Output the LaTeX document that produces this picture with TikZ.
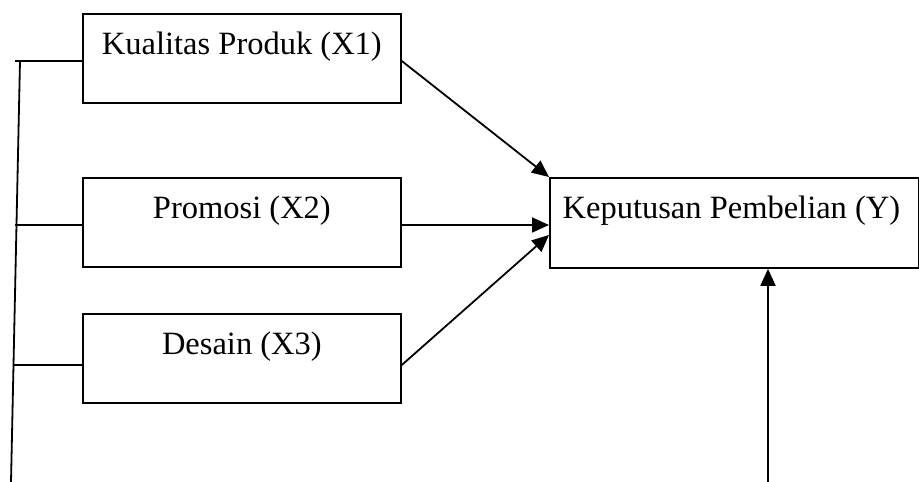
\documentclass[tikz,border=0pt]{standalone}
\usepackage{fontspec}
\setmainfont{Liberation Serif}
\usetikzlibrary{arrows.meta,calc}
\begin{document}
\begin{tikzpicture}[x=1pt,y=-1pt,
  box/.style={draw,line width=1.8pt,rectangle,minimum width=318pt,minimum height=89pt,inner sep=0pt,anchor=north west},
  lbl/.style={anchor=base,font=\fontsize{32.5}{38}\selectfont,inner sep=0pt},
  ln/.style={line width=1.8pt},
  arr/.style={line width=1.8pt,-{Triangle[length=17pt,width=15pt]}}]
\useasboundingbox (0,0) rectangle (919,482);
\node[box] (X1) at (82,13) {};
\node[box] (X2) at (82,177) {};
\node[box] (X3) at (82,313) {};
\node[box,minimum width=369pt,minimum height=90pt] (Y) at (549,177) {};
\node[lbl] (t1) at ($(X1.north)+(0,41)$) {Kualitas Produk (X1)};
\node[lbl] (t2) at ($(X2.north)+(0,41)$) {Promosi (X2)};
\node[lbl] (t3) at ($(X3.north)+(0,41)$) {Desain (X3)};
\node[lbl] (t4) at ($(Y.north)+(-3,41)$) {Keputusan Pembelian (Y)};
\coordinate (top) at (20,61);
\coordinate (bot) at (11,482);
\draw[ln] (top) -- (bot);
\coordinate (h1) at (15,61);
\coordinate (h2) at (15,225);
\coordinate (h3) at (13,365);
\draw[ln] (h1) -- (h1 -| X1.west);
\draw[ln] (h2) -- (h2 -| X2.west);
\draw[ln] (h3) -- (h3 -| X3.west);
\draw[arr] (X1.east |- h1) -- (Y.north west);
\draw[arr] (X2.east |- h2) -- (Y.west |- h2);
\draw[arr] (X3.east |- h3) -- ($(Y.north west)+(0,58)$);
\coordinate (b4) at (768,482);
\draw[arr] (b4) -- (b4 |- Y.south);
\end{tikzpicture}
\end{document}
